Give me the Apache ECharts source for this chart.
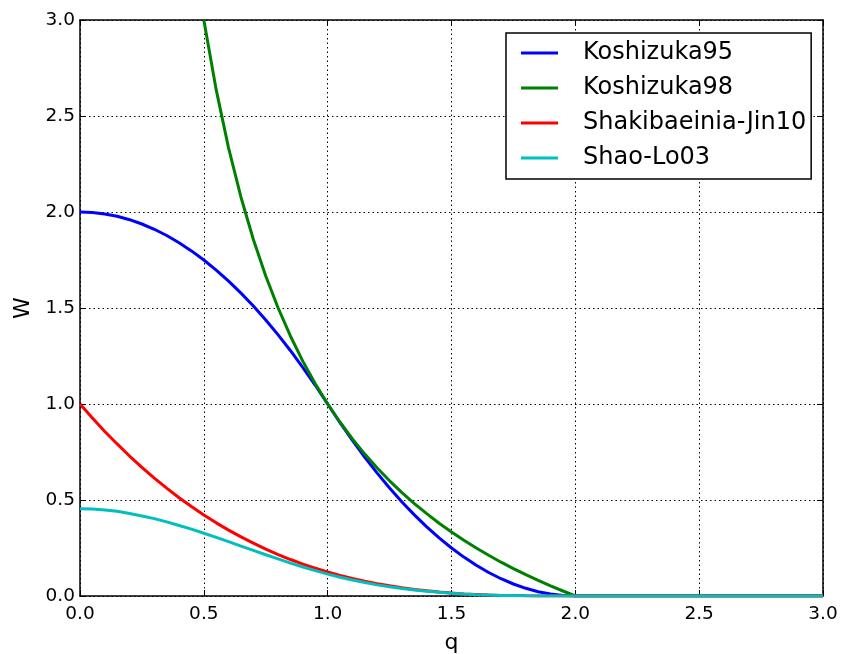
<!DOCTYPE html>
<html>
<head>
<meta charset="utf-8">
<script src="https://cdn.jsdelivr.net/npm/echarts@6/dist/echarts.min.js"></script>
<style>
html, body { margin: 0; padding: 0; background: #fff; }
#main { width: 843px; height: 654px; }
</style>
</head>
<body>
<div id="main"></div>
<script>
var qValues = [0.0, 0.05, 0.1, 0.15, 0.2, 0.25, 0.3, 0.35, 0.4, 0.45, 0.5,
    0.55, 0.6, 0.65, 0.7, 0.75, 0.8, 0.85, 0.9, 0.95, 1.0,
    1.05, 1.1, 1.15, 1.2, 1.25, 1.3, 1.35, 1.4, 1.45, 1.5,
    1.55, 1.6, 1.65, 1.7, 1.75, 1.8, 1.85, 1.9, 1.95, 2.0,
    2.05, 2.1, 2.15, 2.2, 2.25, 2.3, 2.35, 2.4, 2.45, 2.5,
    2.55, 2.6, 2.65, 2.7, 2.75, 2.8, 2.85, 2.9, 2.95, 3.0];
var koshizuka95 = [2.0, 1.9975, 1.99, 1.9775, 1.96, 1.9375, 1.91, 1.8775, 1.84, 1.7975, 1.75,
    1.6975, 1.64, 1.5775, 1.51, 1.4375, 1.36, 1.2775, 1.19, 1.0975, 1.0,
    0.9025, 0.81, 0.7225, 0.64, 0.5625, 0.49, 0.4225, 0.36, 0.3025, 0.25,
    0.2025, 0.16, 0.1225, 0.09, 0.0625, 0.04, 0.0225, 0.01, 0.0025, 0,
    0, 0, 0, 0, 0, 0, 0, 0, 0, 0,
    0, 0, 0, 0, 0, 0, 0, 0, 0, 0];
var koshizuka98 = [null, null, null, null, null, null, null, null, null, null, 3.0,
    2.636, 2.333, 2.077, 1.857, 1.667, 1.5, 1.353, 1.222, 1.105, 1.0,
    0.905, 0.818, 0.739, 0.667, 0.6, 0.538, 0.481, 0.429, 0.379, 0.333,
    0.290, 0.25, 0.212, 0.176, 0.143, 0.111, 0.081, 0.053, 0.026, 0,
    0, 0, 0, 0, 0, 0, 0, 0, 0, 0,
    0, 0, 0, 0, 0, 0, 0, 0, 0, 0];
var shakibaeinia = [1.0, 0.927, 0.857, 0.792, 0.729, 0.670, 0.614, 0.562, 0.512, 0.466, 0.422,
    0.381, 0.343, 0.308, 0.275, 0.244, 0.216, 0.190, 0.166, 0.145, 0.125,
    0.107, 0.091, 0.077, 0.064, 0.053, 0.043, 0.034, 0.027, 0.021, 0.016,
    0.011, 0.008, 0.005, 0.003, 0.002, 0.001, 0.0004, 0.0001, 0, 0,
    0, 0, 0, 0, 0, 0, 0, 0, 0, 0,
    0, 0, 0, 0, 0, 0, 0, 0, 0, 0];
var shaoLo = [0.455, 0.453, 0.448, 0.441, 0.430, 0.417, 0.403, 0.386, 0.367, 0.348, 0.327,
    0.305, 0.283, 0.260, 0.238, 0.215, 0.193, 0.171, 0.151, 0.132, 0.114,
    0.098, 0.083, 0.070, 0.058, 0.048, 0.039, 0.031, 0.025, 0.019, 0.014,
    0.010, 0.007, 0.005, 0.003, 0.002, 0.001, 0.0004, 0.0001, 0, 0,
    0, 0, 0, 0, 0, 0, 0, 0, 0, 0,
    0, 0, 0, 0, 0, 0, 0, 0, 0, 0];
var seriesNames = ['Koshizuka95', 'Koshizuka98', 'Shakibaeinia-Jin10', 'Shao-Lo03'];
var seriesColors = ['#0000ff', '#008000', '#ff0000', '#00bfbf'];

window.onload = function() {
    var myChart = echarts.init(document.getElementById('main')),
        font = 'DejaVu Sans',
        allValues = [koshizuka95, koshizuka98, shakibaeinia, shaoLo];

    function pairs(vals) {
        return qValues.map(function(q, i) { return [q, vals[i]]; });
    }

    var axisCommon = {
        type: 'value',
        min: 0,
        max: 3,
        interval: 0.5,
        axisLine: { show: true, onZero: false, lineStyle: { color: '#000', width: 1.5 } },
        axisTick: { show: true, inside: true, length: 6, lineStyle: { color: '#000', width: 1 } }
    };

    var option = {
        animation: false,
        textStyle: { fontFamily: font },
        grid: { left: 80, right: 20, top: 20, bottom: 58, outerBoundsMode: 'none', containLabel: false },
        legend: {
            orient: 'vertical',
            left: 506,
            top: 33,
            padding: [8, 5, 9, 15],
            icon: 'rect',
            itemWidth: 37,
            itemHeight: 3,
            itemGap: 11,
            backgroundColor: '#fff',
            borderColor: '#000',
            borderWidth: 1.5,
            borderRadius: 0,
            data: seriesNames,
            textStyle: { fontFamily: font, fontSize: 24, color: '#000', lineHeight: 24, padding: [0, 0, 0, 20] }
        },
        xAxis: [
            Object.assign({}, axisCommon, {
                position: 'bottom',
                name: 'q',
                nameLocation: 'middle',
                nameGap: 36,
                nameTextStyle: { fontFamily: font, fontSize: 22, color: '#000' },
                axisLabel: { margin: 9, fontSize: 18.5, color: '#000', fontFamily: font,
                    formatter: function(v) { return v.toFixed(1); } },
                splitLine: { show: true, lineStyle: { color: '#000', width: 1, type: [1.5, 3] } }
            }),
            Object.assign({}, axisCommon, {
                position: 'top',
                axisLabel: { show: false },
                splitLine: { show: false }
            })
        ],
        yAxis: [
            Object.assign({}, axisCommon, {
                position: 'left',
                name: 'W',
                nameLocation: 'middle',
                nameGap: 46,
                nameTextStyle: { fontFamily: font, fontSize: 22, color: '#000' },
                axisLabel: { margin: 5, fontSize: 18.5, color: '#000', fontFamily: font,
                    formatter: function(v) { return v.toFixed(1); } },
                splitLine: { show: true, lineStyle: { color: '#000', width: 1, type: [1.5, 3] } }
            }),
            Object.assign({}, axisCommon, {
                position: 'right',
                axisLabel: { show: false },
                splitLine: { show: false }
            })
        ],
        series: allValues.map(function(vals, i) {
            return {
                name: seriesNames[i],
                type: 'line',
                data: pairs(vals),
                symbol: 'none',
                clip: true,
                connectNulls: false,
                lineStyle: { color: seriesColors[i], width: 3 },
                itemStyle: { color: seriesColors[i] }
            };
        })
    };

    myChart.setOption(option);
};
</script>
</body>
</html>
